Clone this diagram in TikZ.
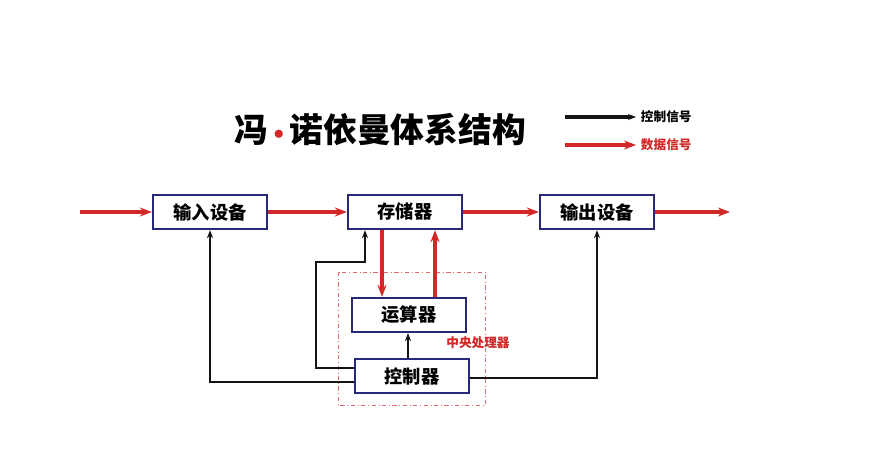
\documentclass[tikz,border=0pt]{standalone}
\usepackage{fontspec}
\newfontfamily\cjk{Noto Sans CJK SC}[BoldFont={Noto Sans CJK SC Black}]
\usepackage{tikz}
\usetikzlibrary{arrows.meta, positioning}
\definecolor{boxcolor}{RGB}{40,40,120}
\definecolor{datacolor}{RGB}{210,40,40}
\definecolor{ctrlcolor}{RGB}{20,20,20}

\begin{document}
\begin{tikzpicture}[
    x=0.025cm, y=-0.025cm,
    unit/.style={draw=boxcolor, line width=1.6pt, fill=white, minimum width=2.85cm, minimum height=0.85cm, font=\cjk\bfseries\fontsize{13}{15}\selectfont, inner sep=1pt},
    datapipe/.style={-{Stealth[length=3mm]}, line width=2.6pt, datacolor},
    ctrlpipe/.style={-{Stealth[length=2mm]}, line width=1.6pt, ctrlcolor},
    note/.style={font=\cjk\bfseries\fontsize{9}{11}\selectfont}
]
    \useasboundingbox (0,0) rectangle (892,472);
    % CPU frame
    \draw[datacolor!70, dash dot, thin] (338,272) rectangle (485,405);
    \node[note, text=datacolor] (cpu) at (478,343) {中央处理器};

    % Units
    \node[unit] (input) at (210,212) {输入设备};
    \node[unit] (memory) at (405,212) {存储器};
    \node[unit] (output) at (597,212) {输出设备};
    \node[unit] (alu) at (409,315) {运算器};
    \node[unit] (ctrl) at (412,376) {控制器};

    % Title and legend
    \node[font=\cjk\bfseries\fontsize{24}{27}\selectfont] (title) at (380,130) {冯\,{\color{datacolor}\raisebox{0.2ex}{\scalebox{0.6}{$\bullet$}}}\,诺依曼体系结构};
    \coordinate (k1) at (565,117);
    \coordinate (k2) at (565,145);
    \node[note, anchor=west] (ctrlkey) at (636,117) {控制信号};
    \node[note, anchor=west, text=datacolor] (datakey) at (636,145) {数据信号};
    \draw[ctrlpipe, line width=2.6pt] (k1) -- (ctrlkey);
    \draw[datapipe] (k2) -- (datakey);

    % Data flow
    \coordinate (src) at (80,212);
    \coordinate (dst) at (730,212);
    \draw[datapipe] (src) -- (input);
    \draw[datapipe] (input) -- (memory);
    \draw[datapipe] (memory) -- (output);
    \draw[datapipe] (output) -- (dst);
    \draw[datapipe] (memory.south -| 382,0) -- (alu.north -| 382,0);
    \draw[datapipe] (alu.north -| 435,0) -- (memory.south -| 435,0);

    % Control flow
    \draw[ctrlpipe] (ctrl.west |- 0,382) -| (input.south);
    \draw[ctrlpipe] (ctrl.east |- 0,378) -| (output.south);
    \draw[ctrlpipe] (ctrl.west |- 0,368) -| (316,262) -| (memory.south -| 365,0);
    \draw[ctrlpipe] (ctrl.north -| 408,0) -- (alu.south -| 408,0);
\end{tikzpicture}
\end{document}
